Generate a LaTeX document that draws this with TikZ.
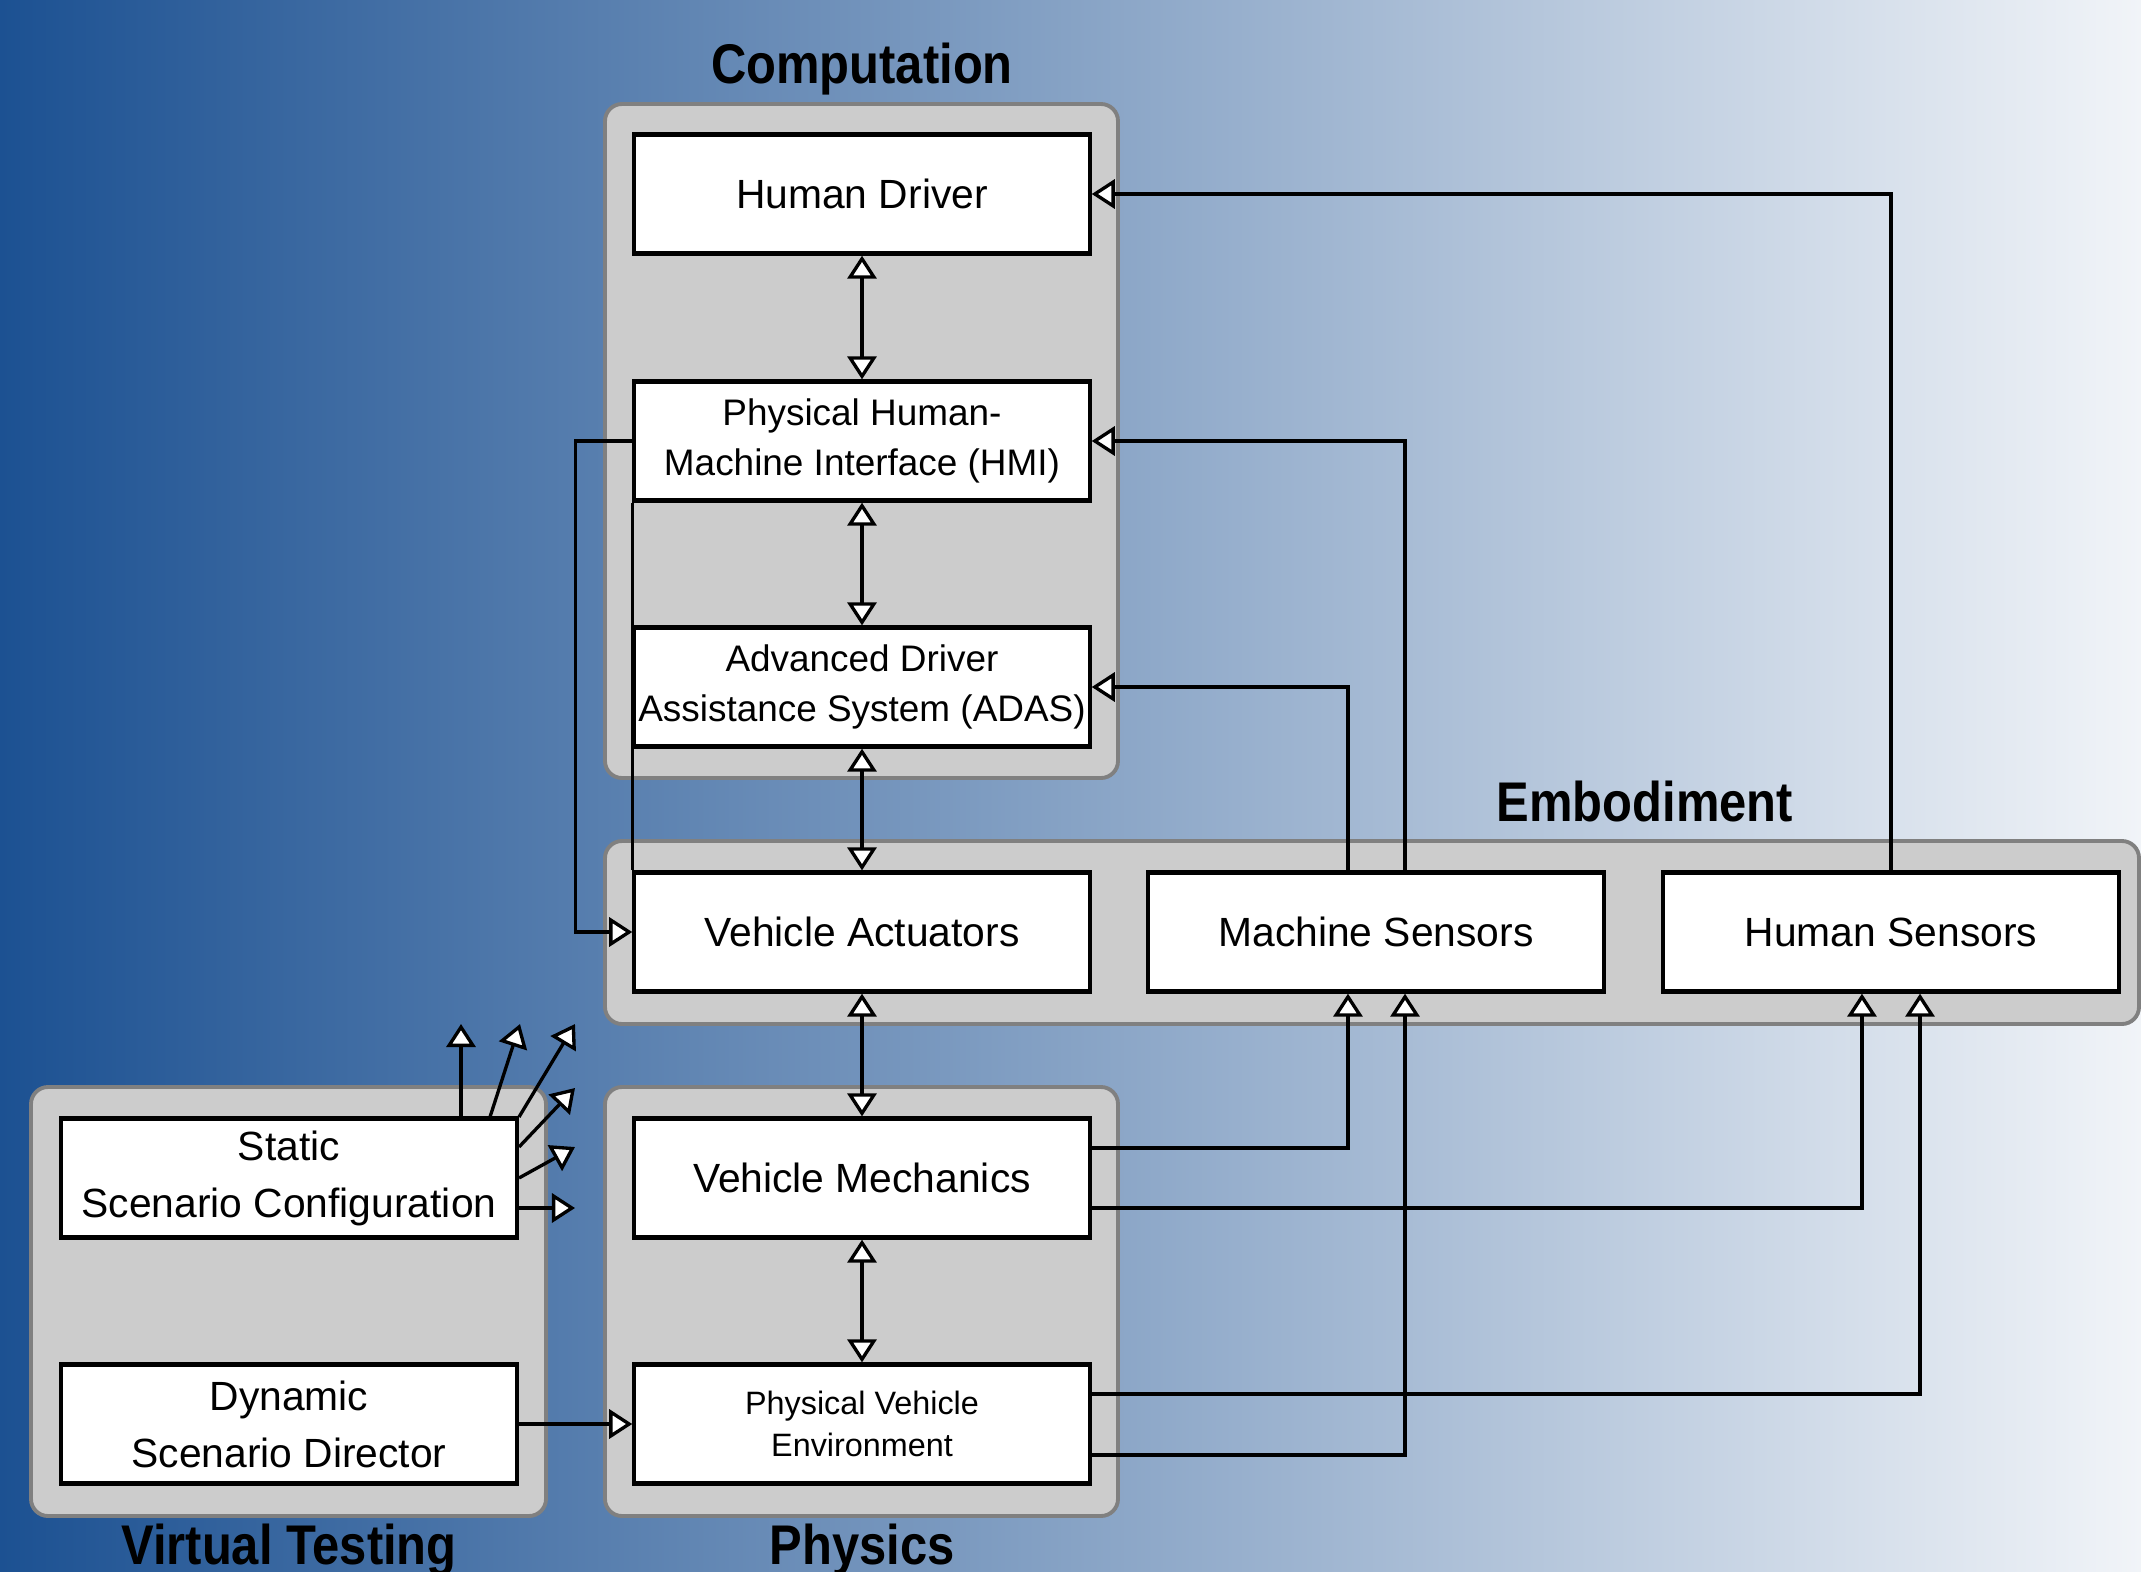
\documentclass[tikz,border=0pt]{standalone}
\usepackage{fontspec}
\setmainfont{Liberation Sans}
\newfontfamily\headfont[FakeStretch=0.875]{Liberation Sans}
\usetikzlibrary{arrows.meta}
\definecolor{bgleft}{HTML}{1C5192}
\definecolor{bgright}{HTML}{F1F4F8}
\definecolor{groupfill}{HTML}{CCCCCC}
\definecolor{groupline}{HTML}{808080}

\begin{document}
\begin{tikzpicture}[x=0.01cm,y=-0.01cm,
  >={Triangle[fill=white,length=0.23cm,width=0.29cm]},
  block/.style={draw,fill=white,line width=1.2pt,minimum width=4.55cm,minimum height=1.19cm,
    inner sep=0pt,align=center,font=\fontsize{11.6}{16.2}\selectfont},
  group/.style={draw=groupline,fill=groupfill,line width=1.1pt,rounded corners=0.17cm},
  head/.style={font=\headfont\bfseries\fontsize{15.9}{18}\selectfont,anchor=base,inner sep=0pt},
  link/.style={line width=0.95pt}]
  % background
  \useasboundingbox (0,0) rectangle (2141,1572);
  \shade[left color=bgleft,right color=bgright] (0,0) rectangle (2141,1572);
  % groups
  \draw[group] (605,104) rectangle (1118,778);    % computation
  \draw[group] (605,841) rectangle (2139,1024);   % embodiment
  \draw[group] (31,1087) rectangle (546,1516);    % virtual testing
  \draw[group] (605,1087) rectangle (1118,1516);  % physics
  \node[head] (hcomp) at (862,83)   {Computation};
  \node[head] (hemb)  at (1645,821) {Embodiment};
  \node[head] (hvirt) at (289,1564) {Virtual Testing};
  \node[head] (hphys) at (862,1564) {Physics};
  % blocks
  \node[block] (drv) at (862,194) {Human Driver};
  \node[block,font=\fontsize{10.5}{14}\selectfont] (hmi) at (862,441) {Physical Human-\\Machine Interface (HMI)};
  \node[block,font=\fontsize{10.5}{14}\selectfont] (adas) at (862,687) {Advanced Driver\\Assistance System (ADAS)};
  \node[block] (act)   at (862,932)  {Vehicle Actuators};
  \node[block] (msens) at (1376,932) {Machine Sensors};
  \node[block] (hsens) at (1891,932) {Human Sensors};
  \node[block] (static) at (289,1178) {Static\\Scenario Configuration};
  \node[block] (dyn)    at (289,1424) {Dynamic\\Scenario Director};
  \node[block] (mech)   at (862,1178) {Vehicle Mechanics};
  \node[block,font=\fontsize{9.2}{12}\selectfont] (env) at (862,1424) {Physical Vehicle\\Environment};
  % main chain
  \foreach \a/\b in {drv/hmi,hmi/adas,adas/act,act/mech,mech/env}
    \draw[link,<->] (\a) -- (\b);
  % sensing loops
  \draw[link,->] (hsens.north) |- (drv.east);
  \draw[link,->] ([xshift=0.29cm]msens.north) |- (hmi.east);
  \draw[link,->] ([xshift=-0.28cm]msens.north) |- (adas.east);
  \draw[link,->] (hmi.west) -- ++(-57,0) |- (act.west);
  \draw[link] (hmi.south west) -- (act.north west);
  \draw[link,->] ([yshift=0.3cm]mech.east) -| ([xshift=-0.28cm]msens.south);
  \draw[link,->] ([yshift=-0.3cm]mech.east) -| ([xshift=-0.29cm]hsens.south);
  \draw[link,->] ([yshift=0.3cm]env.east) -| ([xshift=0.29cm]hsens.south);
  \draw[link,->] ([yshift=-0.31cm]env.east) -| ([xshift=0.29cm]msens.south);
  \draw[link,->] (dyn) -- (env);
  % scenario outputs
  \foreach \i/\sx/\sy/\tx/\ty in {1/461/1117/461/1024,2/490/1117/520/1024,3/519/1117/575/1024,
                                  4/519/1147/575/1088,5/519/1178/575/1147,6/519/1208/575/1208} {
    \coordinate (src\i) at (\sx,\sy);
    \coordinate (out\i) at (\tx,\ty);
    \draw[link,->] (src\i) -- (out\i);
  }
\end{tikzpicture}
\end{document}
